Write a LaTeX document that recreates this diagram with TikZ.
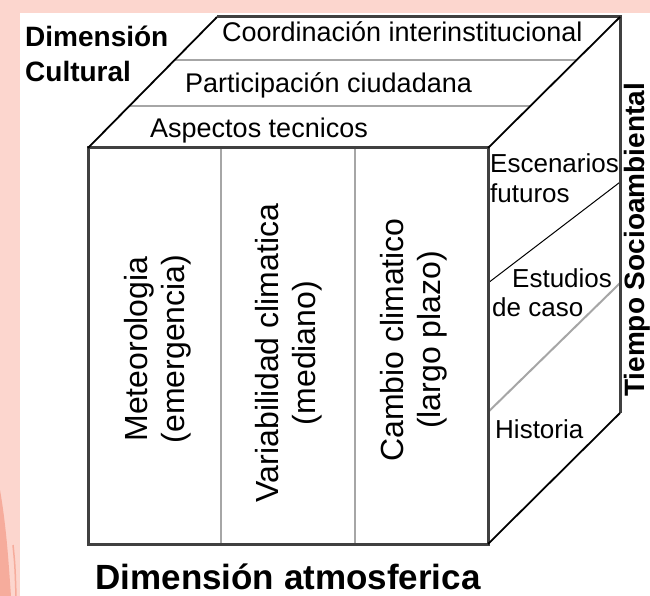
\documentclass[tikz,border=0pt]{standalone}
\usepackage{fontspec}
\setmainfont{Liberation Sans}
\usetikzlibrary{calc}

\definecolor{slide}{RGB}{252,214,206}
\definecolor{swoosh}{RGB}{246,172,156}

\begin{document}
\begin{tikzpicture}[
  x=1pt, y=-1pt,
  edge/.style={line width=3pt, draw=black!75},
  slant/.style={line width=1.8pt, draw=black},
  divider/.style={line width=2pt, draw=black!35},
  thinline/.style={line width=1pt, draw=black},
  face/.style={font=\fontsize{27}{32}\selectfont, inner sep=0pt},
  side/.style={font=\fontsize{26}{30}\selectfont, inner sep=0pt},
  column/.style={rotate=90, align=center, inner sep=0pt,
    font=\fontsize{32}{37}\selectfont},
  title/.style={font=\bfseries\fontsize{28}{32}\selectfont, inner sep=0pt},
]

% slide background
\clip (0,0) rectangle (650,596);
\fill[slide] (0,0) rectangle (650,596);
\fill[swoosh] (0,490) .. controls (7,530) and (9,570) .. (11,596) -- (0,596) -- cycle;
\draw[swoosh, line width=1.5pt] (13,545) .. controls (15,565) .. (16,596);
\fill[white] (20,13) rectangle (650,596);

% cube corners
\coordinate (ftl) at (88,148);
\coordinate (ftr) at (488,148);
\coordinate (fbl) at (88,544);
\coordinate (fbr) at (488,544);
\coordinate (btl) at (217,17);
\coordinate (btr) at (620,17);
\coordinate (bbr) at (620,413);

% inner lines
\draw[divider] ($(ftl)!0.672!(btl)$) -- ($(ftr)!0.672!(btr)$);
\draw[divider] ($(ftl)!0.321!(btl)$) -- ($(ftr)!0.321!(btr)$);
\draw[divider] ($(ftl)!1/3!(ftr)$) -- ($(fbl)!1/3!(fbr)$);
\draw[divider] ($(ftl)!2/3!(ftr)$) -- ($(fbl)!2/3!(fbr)$);
\draw[thinline] ($(ftr)!0.341!(fbr)$) -- ($(btr)!0.417!(bbr)$);
\draw[divider] ($(ftr)!0.667!(fbr)$) -- ($(btr)!0.672!(bbr)$);

% outline
\draw[edge] (ftl) rectangle (fbr);
\draw[slant] (ftl) -- (btl);
\draw[edge] (btl) -- (btr) -- (bbr);
\draw[slant] (ftr) -- (btr);
\draw[slant] (fbr) -- (bbr);

% top face
\node[face, anchor=base west] (coord) at (222,42) {Coordinación interinstitucional};
\node[face, anchor=base west] (partic) at (185,93) {Participación ciudadana};
\node[face, anchor=base west] (aspect) at (150,138) {Aspectos tecnicos};

% front face
\node[column] (meteo) at (158,349) {Meteorologia\\(emergencia)};
\node[column] (varia) at (289,353) {Variabilidad climatica\\(mediano)};
\node[column] (cambio) at (414,340) {Cambio climatico\\(largo plazo)};

% right face
\node[side, anchor=base west] (escen) at (490,172) {Escenarios};
\node[side, anchor=base west] (futur) at (490,203) {futuros};
\node[side, anchor=base west] (estud) at (512,287) {Estudios};
\node[side, anchor=base west] (caso) at (492,316) {de caso};
\node[side, anchor=base west] (histo) at (495,438) {Historia};

% axis names
\node[title, anchor=base west] (cult1) at (25,47) {Dimensión};
\node[title, anchor=base west] (cult2) at (25,82) {Cultural};
\node[title, rotate=90, anchor=base] (tiempo) at (644,240) {Tiempo Socioambiental};
\node[title, font=\bfseries\fontsize{35}{40}\selectfont, anchor=base] (atmos) at (288,589) {Dimensión atmosferica};

\end{tikzpicture}
\end{document}
